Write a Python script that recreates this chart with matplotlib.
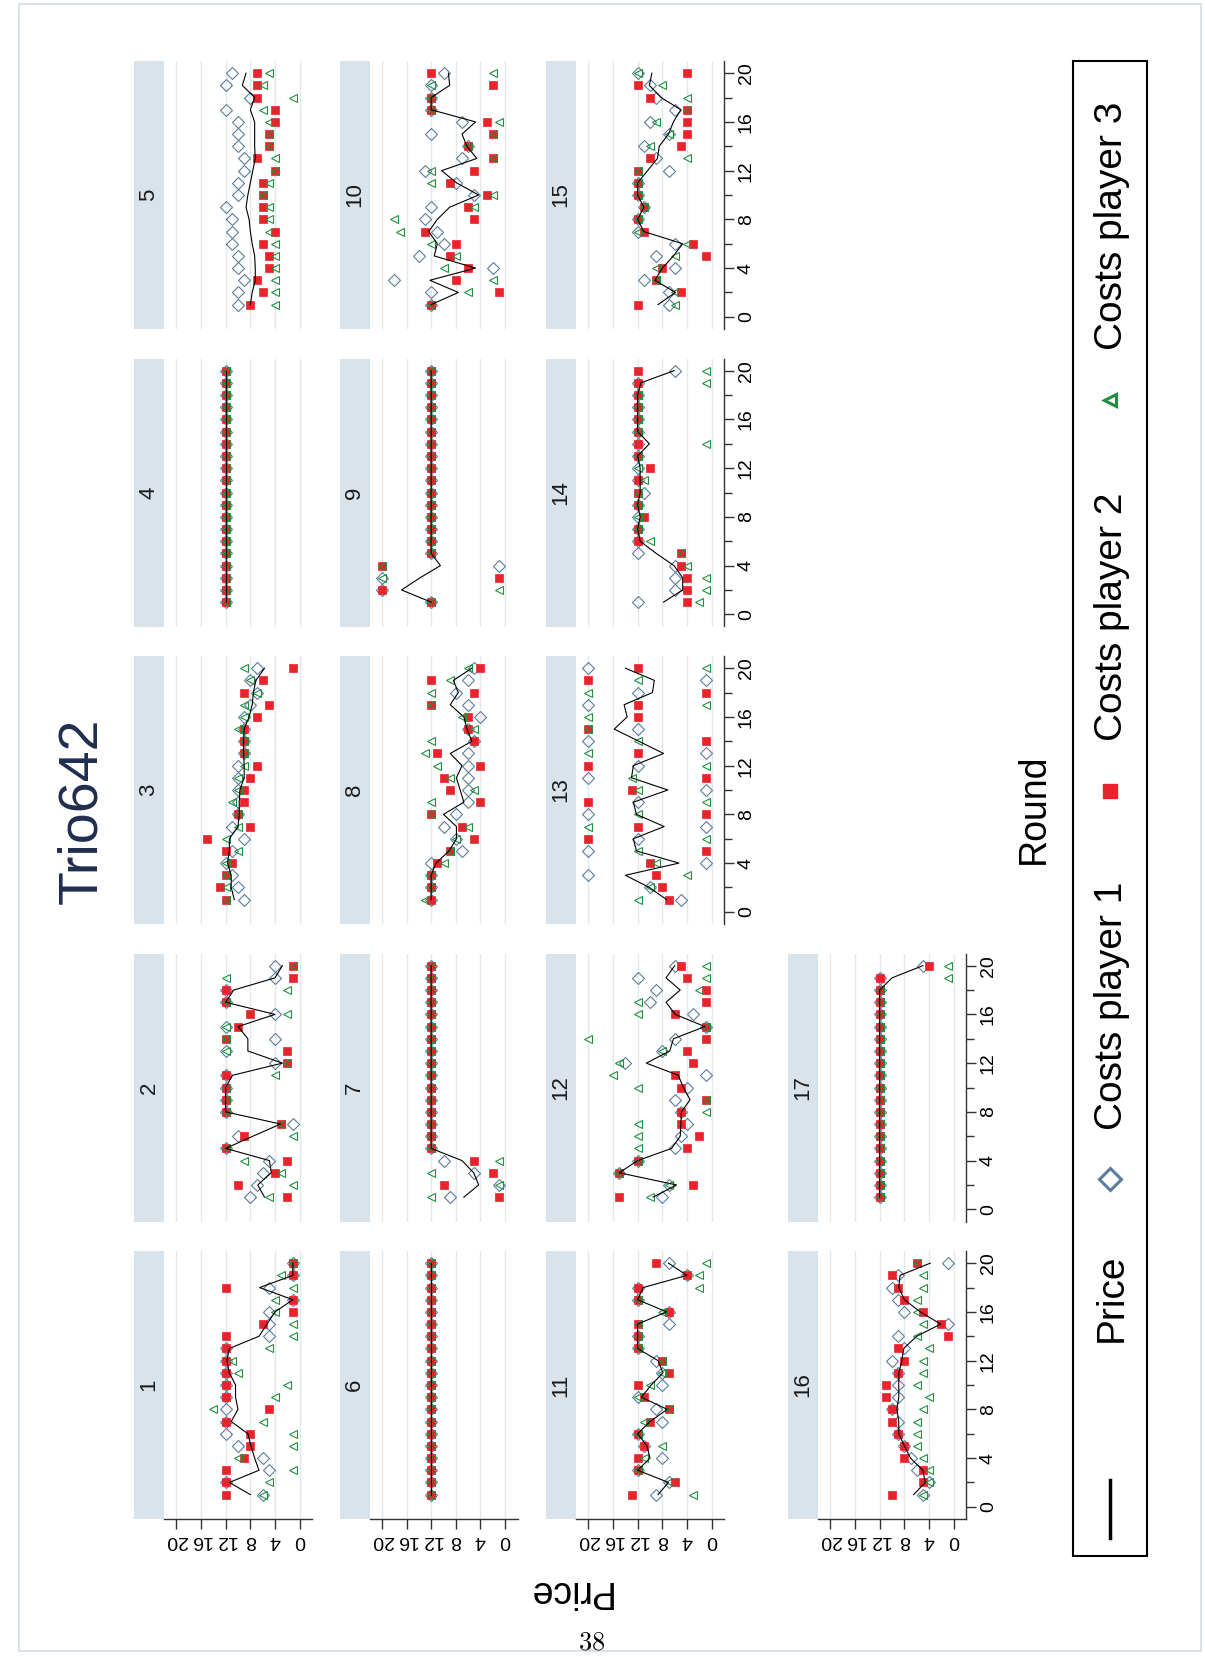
import numpy as np
import matplotlib
matplotlib.use('Agg')
import matplotlib.pyplot as plt
from matplotlib.patches import Rectangle
from matplotlib import font_manager as fm

plt.rcParams['font.family'] = ['Liberation Sans', 'DejaVu Sans']
plt.rcParams['mathtext.fontset'] = 'cm'

# ---------------- data ----------------
rounds = list(range(1, 21))
group_ids = list(range(1, 18))
price_ticks = [0, 4, 8, 12, 16, 20]
price_tick_labels = ['0', '4', '8', '12', '16', '20']
round_ticks = [0, 4, 8, 12, 16, 20]
round_minor_ticks = [2, 6, 10, 14, 18]
round_tick_labels = ['0', '4', '8', '12', '16', '20']
legend_labels = ['Price', 'Costs player 1', 'Costs player 2', 'Costs player 3']
title_text = 'Trio642'
x_title = 'Round'
y_title = 'Price'
page_number = '38'
nan = np.nan

price = [
    [8.0, 11.4, 6.6, 7.3, 7.9, 8.4, 11.1, 10.0, 10.4, 10.4, 11.4, 11.8, 11.4, 6.6, 5.3, 4.0, 1.1, 6.5, 1.1, 1.1],
    [5.7, 6.8, 4.6, 4.9, 12, 7.6, 3.1, 12, 12, 12, 10.9, 2.8, 8.4, 8.4, 10.0, 4.0, 12, 10.7, 4.0, 2.8],
    [10.6, 11.1, 11.1, 11.7, 11.4, 11.4, 10.0, 9.8, 9.8, 9.7, 9.0, 9.0, 9.1, 9.1, 9.0, 8.2, 7.7, 7.5, 7.1, 5.7],
    [12, 12, 12, 12, 12, 12, 12, 12, 12, 12, 12, 12, 12, 12, 12, 12, 12, 12, 12, 12],
    [8.0, 7.7, 7.2, 7.2, 7.3, 7.7, 8.0, 8.2, 8.7, 8.4, 8.0, 7.6, 7.2, 7.3, 7.3, 7.3, 8.0, 7.3, 9.3, 8.7],
    [12, 12, 12, 12, 12, 12, 12, 12, 12, 12, 12, 12, 12, 12, 12, 12, 12, 12, 12, 12],
    [6.7, 4.3, 5.1, 7.0, 12, 12, 12, 12, 12, 12, 12, 12, 12, 12, 12, 12, 12, 12, 12, 12],
    [12, 12, 12, 11.2, 9.1, 7.9, 7.9, 10.0, 6.7, 7.3, 7.9, 7.0, 8.9, 5.4, 6.2, 6.7, 8.9, 7.6, 8.4, 5.4],
    [12, 16.8, 13.8, 10.5, 12, 12, 12, 12, 12, 12, 12, 12, 12, 12, 12, 12, 12, 12, 12, 12],
    [12, 7.6, 12.2, 4.8, 11.5, 11.0, 12.4, 11.0, 9.0, 4.3, 7.9, 10.3, 4.6, 6.2, 7.0, 4.8, 12, 12, 9.0, 9.2],
    [8.7, 7.0, 12, 10.0, 10.5, 12, 10.0, 7.2, 11.4, 9.8, 7.9, 8.7, 12, 12, 12, 7.3, 12, 11.1, 4.0, 7.0],
    [9.5, 5.7, 15, 12, 6.5, 5.1, 5.0, 4.9, 3.5, 4.6, 5.4, 10.6, 6.8, 6.2, 1.1, 5.9, 7.4, 5.1, 7.4, 6.0],
    [7.3, 10.1, 14.0, 5.3, 12.2, 12.7, 7.7, 12.2, 12.7, 7.1, 13.0, 12.7, 7.8, 11.8, 15.8, 13.7, 14.2, 9.6, 9.3, 14.0],
    [7.8, 4.7, 4.7, 6.1, 9.0, 11.6, 12, 11.6, 12, 11.6, 11.6, 11.6, 12, 10.1, 12, 12, 12, 12, 11.5, 6.1],
    [8.7, 5.9, 9.2, 8.0, 6.2, 4.7, 11.0, 12, 11.0, 12, 12, 10.4, 8.8, 8.5, 7.0, 6.2, 5.0, 8.2, 10.1, 9.7],
    [6.5, 4.6, 5.0, 7.0, 8.0, 8.9, 8.9, 9.2, 8.9, 8.9, 8.9, 8.4, 8.1, 6.0, 2.1, 5.4, 8.0, 8.9, 8.7, 3.8],
    [12, 12, 12, 12, 12, 12, 12, 12, 12, 12, 12, 12, 12, 12, 12, 12, 12, 12, 10.0, 5.0],
]

cost_p1 = [
    [6, 12, 5, 6, 10, 12, 12, 12, 12, 12, 12, 12, 12, 5, 5, 5, 1, 5, 1, 1],
    [8, 7, 6, 5, 12, 10, 1, 12, 12, 12, 12, 4, 12, 4, 12, 4, 12, 12, 4, 4],
    [9, 10, 11, 12, 11, 9, 11, 10, 10, 10, 10, 10, 9, 9, 9, 9, 8, 7, 8, 7],
    [12, 12, 12, 12, 12, 12, 12, 12, 12, 12, 12, 12, 12, 12, 12, 12, 12, 12, 12, 12],
    [10, 10, 9, 10, 10, 11, 11, 11, 12, 10, 10, 9, 9, 10, 10, 10, 12, 8, 12, 11],
    [12, 12, 12, 12, 12, 12, 12, 12, 12, 12, 12, 12, 12, 12, 12, 12, 12, 12, 12, 12],
    [9, 1, 5, 10, 12, 12, 12, 12, 12, 12, 12, 12, 12, 12, 12, 12, 12, 12, 12, 12],
    [12, 12, 12, 12, 7, 8, 10, 8, 6, 6, 6, 6, 6, 5, 6, 4, 6, 8, 6, 5],
    [12, 20, 20, 1, 12, 12, 12, 12, 12, 12, 12, 12, 12, 12, 12, 12, 12, 12, 12, 12],
    [12, 12, 18, 2, 14, 10, 11, 13, 12, 5, 8, 13, 7, 6, 12, 7, 12, 12, 12, 10],
    [9, 7, 12, 8, 11, 12, 8, 9, 12, 8, 8, 9, 12, 12, 7, 7, 12, 12, 4, 7],
    [8, 7, 15, 12, 6, 5, 4, 5, 6, 4, 1, 14, 8, 6, 1, 3, 10, 9, 12, 6],
    [5, 10, 20, 1, 20, 12, 1, 20, 12, 1, 20, 12, 1, 20, 12, nan, 20, 12, 1, 20],
    [12, 6, 6, 6, 12, 12, 12, 12, 12, 11, 12, 12, 12, 12, 12, 12, 12, 12, 12, 6],
    [7, 7, 11, 6, 9, 6, 12, 12, 11, 12, 12, 7, 9, 11, 7, 10, 6, 9, 10, 12],
    [5, 4, 6, 7, 8, 9, 9, 10, 9, 9, 9, 10, 8, 9, 1, 8, 9, 10, 9, 1],
    [12, 12, 12, 12, 12, 12, 12, 12, 12, 12, 12, 12, 12, 12, 12, 12, 12, 12, 12, 5],
]

cost_p2 = [
    [12, 12, 12, 9, 8, 8, 12, 5, 12, 12, 12, 12, 12, 12, 6, 1, 1, 12, 1, 1],
    [2, 10, 4, 2, 12, 9, 3, 12, 12, 12, 12, 2, 2, 12, 10, 8, 12, 12, 1, 1],
    [12, 13, 12, 11, 12, 15, 8, 10, 9, 9, 8, 7, 9, 9, 9, 7, 5, 9, 6, 1],
    [12, 12, 12, 12, 12, 12, 12, 12, 12, 12, 12, 12, 12, 12, 12, 12, 12, 12, 12, 12],
    [8, 6, 7, 5, 5, 6, 4, 6, 6, 6, 6, 4, 7, 5, 5, 4, 4, 7, 7, 7],
    [12, 12, 12, 12, 12, 12, 12, 12, 12, 12, 12, 12, 12, 12, 12, 12, 12, 12, 12, 12],
    [1, 10, 2, 5, 12, 12, 12, 12, 12, 12, 12, 12, 12, 12, 12, 12, 12, 12, 12, 12],
    [12, 12, 12, 11, 9, 5, 7, 12, 4, 9, 10, 4, 11, 5, 6, 6, 12, 5, 12, 4],
    [12, 20, 1, 20, 12, 12, 12, 12, 12, 12, 12, 12, 12, 12, 12, 12, 12, 12, 12, 12],
    [12, 1, 8, 6, 9, 8, 13, 5, 6, 3, 9, 5, 2, 6, 2, 3, 12, 12, 2, 12],
    [13, 6, 12, 12, 11, 12, 10, 7, 11, 12, 7, 8, 12, 12, 12, 7, 12, 12, 4, 9],
    [15, 3, 15, 12, 4, 2, 5, 5, 1, 5, 6, 3, 4, 1, 1, 6, 1, 1, 4, 5],
    [7, 8, 9, 10, 1, 20, 12, 1, 20, 13, 1, 20, 12, 1, 20, 12, 12, 1, 20, 12],
    [4, 4, 4, 5, 5, 12, 12, 11, 12, 12, 12, 10, 12, 12, 12, 12, 12, 12, 12, 12],
    [12, 5, 9, 8, 1, 3, 11, 12, 11, 12, 12, 12, 10, 5, 4, 4, 4, 10, 12, 4],
    [10, 5, 5, 8, 8, 9, 10, 10, 11, 11, 9, 8, 9, 1, 2, 5, 8, 9, 10, 6],
    [12, 12, 12, 12, 12, 12, 12, 12, 12, 12, 12, 12, 12, 12, 12, 12, 12, 12, 12, 4],
]

cost_p3 = [
    [6, 5, 1, 10, 1, 1, 6, 14, 4, 2, 10, 11, 5, 1, 1, 4, 4, 1, 3, 1],
    [5, 1, 3, 9, 12, 1, 3, 12, 12, 12, 4, 2, 12, 12, 12, 2, 12, 2, 12, 1],
    [12, 12, 12, 12, 10, 12, 10, 10, 11, 10, 10, 9, 9, 9, 10, 9, 9, 7, 8, 9],
    [12, 12, 12, 12, 12, 12, 12, 12, 12, 12, 12, 12, 12, 12, 12, 12, 12, 12, 12, 12],
    [4, 4, 4, 4, 4, 4, 5, 5, 5, 6, 5, 4, 4, 5, 5, 5, 6, 1, 6, 5],
    [12, 12, 12, 12, 12, 12, 12, 12, 12, 12, 12, 12, 12, 12, 12, 12, 12, 12, 12, 12],
    [12, 1, 12, 1, 12, 12, 12, 12, 12, 12, 12, 12, 12, 12, 12, 12, 12, 12, 12, 12],
    [13, 12, 12, 10, 9, 8, 6, 12, 12, 5, 9, 11, 13, 12, 5, 7, 12, 12, 9, 6],
    [12, 1, 20, 20, 12, 12, 12, 12, 12, 12, 12, 12, 12, 12, 12, 12, 12, 12, 12, 12],
    [12, 6, 2, 10, 8, 12, 17, 18, 5, 2, 12, 12, 2, 6, 2, 1, 12, 12, 12, 2],
    [3, 7, 12, 11, 8, 12, 11, 7, 12, 10, 8, 8, 12, 12, 12, 8, 12, 2, 2, 1],
    [10, 7, 15, 12, 12, 12, 12, 1, 1, 12, 16, 15, 8, 20, 1, 12, 12, 2, 1, 1],
    [12, 10, 4, 9, 12, 1, 20, 12, 1, 12, 13, 1, 20, 12, 20, 20, 1, 20, 12, 1],
    [2, 1, 1, 4, 5, 10, 12, 12, 12, 12, 11, 12, 12, 1, 12, 12, 12, 12, 1, 1],
    [6, 6, 9, 9, 6, 4, 12, 12, 11, 12, 12, 12, 4, 10, 7, 9, 4, 4, 8, 12],
    [5, 4, 4, 5, 6, 6, 6, 5, 4, 6, 5, 5, 4, 6, 5, 6, 6, 5, 5, 6],
    [12, 12, 12, 12, 12, 12, 12, 12, 12, 12, 12, 12, 12, 12, 12, 12, 12, 12, 1, 1],
]

# ---------------- style / layout ----------------
W, H = 1205, 1657
ROW_X = [164, 369.5, 576, 818]          # left edge of plot region for each row of panels
COL_Y = [1251, 953.5, 656, 358.5, 61]   # top edge for each column of panels
PW, PH = 148, 268
STRIP_W = 30
N_COLS = 5

RED = '#e8232b'
DIA = '#5b7d9d'
GRN = '#21903e'
STRIP = '#d8e3eb'
GRID = '#e1e9ee'
AXC = '#333333'
TITLE_C = '#1f2d4f'

names = {f.name for f in fm.fontManager.ttflist}
TICK_FAMILY = ['Liberation Sans Narrow'] if 'Liberation Sans Narrow' in names else ['Liberation Sans']

fig = plt.figure(figsize=(W / 100, H / 100), dpi=100)
fig.patch.set_facecolor('white')

bg = fig.add_axes([0, 0, 1, 1], zorder=0)
bg.set_xlim(0, W)
bg.set_ylim(H, 0)
bg.axis('off')

n = len(group_ids)
for idx, gid in enumerate(group_ids):
    r = idx // N_COLS
    c = idx % N_COLS
    x0 = ROW_X[r]
    y0 = COL_Y[c]

    # strip with panel number
    bg.add_patch(Rectangle((x0 - STRIP_W, y0), STRIP_W, PH, facecolor=STRIP, edgecolor='none'))
    bg.text(x0 - STRIP_W / 2, y0 + PH / 2, str(gid), rotation=90, ha='center', va='center',
            fontsize=16, color='#1a1a1a')

    ax = fig.add_axes([x0 / W, 1 - (y0 + PH) / H, PW / W, PH / H], zorder=2)
    ax.set_facecolor('none')
    for s in ax.spines.values():
        s.set_visible(False)
    ax.set_xlim(22, -2)
    ax.set_ylim(-1, 21)
    ax.set_xticks(price_ticks)
    ax.set_yticks(round_ticks)
    ax.set_yticks(round_minor_ticks, minor=True)
    ax.grid(axis='x', which='major', color=GRID, lw=1.0)
    ax.set_axisbelow(True)
    ax.tick_params(axis='both', which='both', bottom=False, top=False, left=False, right=False,
                   labelbottom=False, labelleft=False, labeltop=False, labelright=False)

    ax.plot(cost_p1[idx], rounds, linestyle='none', marker='D', ms=6.4, mfc='none',
            mec=DIA, mew=0.8, zorder=3)
    ax.plot(cost_p2[idx], rounds, linestyle='none', marker='s', ms=5.4, mfc=RED,
            mec=RED, mew=0.5, zorder=3.5)
    ax.plot(cost_p3[idx], rounds, linestyle='none', marker='<', ms=5.6, mfc='none',
            mec=GRN, mew=0.8, zorder=4)
    ax.plot(price[idx], rounds, color='black', lw=0.8, zorder=5)

    if c == 0:
        ax.spines['bottom'].set_visible(True)
        ax.spines['bottom'].set_color(AXC)
        ax.spines['bottom'].set_linewidth(1.0)
        ax.tick_params(axis='x', which='major', bottom=True, labelbottom=True, length=7,
                       width=1.0, color=AXC, direction='out', labelrotation=180,
                       labelsize=14, pad=2)
        ax.set_xticklabels(price_tick_labels, family=TICK_FAMILY)
    if idx + N_COLS >= n:
        ax.spines['right'].set_visible(True)
        ax.spines['right'].set_color(AXC)
        ax.spines['right'].set_linewidth(1.0)
        ax.tick_params(axis='y', which='major', right=True, labelright=True, length=7,
                       width=1.0, color=AXC, direction='out', labelrotation=90,
                       labelsize=14, pad=3)
        ax.tick_params(axis='y', which='minor', right=True, length=6, width=1.0,
                       color=AXC, direction='out')
        ax.set_yticklabels(round_tick_labels, family=TICK_FAMILY)
        for t in ax.yaxis.get_major_ticks():
            t.label2.set_verticalalignment('center')

# titles
bg.text(82, 811, title_text, rotation=90, ha='center', va='center', fontsize=40, color=TITLE_C)
bg.text(1034, 809, x_title, rotation=90, ha='center', va='center', fontsize=27, color='black')
bg.text(568, 1591, y_title, rotation=180, ha='center', va='center', fontsize=27, color='black')

# legend
bg.add_patch(Rectangle((1073, 61), 74, 1495, fill=False, edgecolor='black', lw=1.5))
LX = 1110
bg.plot([LX, LX], [1480, 1538], color='black', lw=2.5)
bg.text(1112, 1298, legend_labels[0], rotation=90, ha='center', va='center', fontsize=28)
bg.plot([LX], [1179], linestyle='none', marker='D', ms=11, mfc='none', mec=DIA, mew=2.2)
bg.text(1112, 1006, legend_labels[1], rotation=90, ha='center', va='center', fontsize=28)
bg.plot([LX], [791], linestyle='none', marker='s', ms=10, mfc=RED, mec=RED)
bg.text(1112, 617, legend_labels[2], rotation=90, ha='center', va='center', fontsize=28)
bg.plot([LX], [400], linestyle='none', marker='<', ms=9, mfc='none', mec=GRN, mew=2.2)
bg.text(1112, 226, legend_labels[3], rotation=90, ha='center', va='center', fontsize=28)

# page frame and page number
bg.add_patch(Rectangle((19, 4), 1182, 1647, fill=False, edgecolor='#d3dee5', lw=1.2))
bg.text(592, 1643, r'$' + page_number + r'$', ha='center', va='center', fontsize=19)

fig.savefig('out.png', dpi=100, facecolor='white')
